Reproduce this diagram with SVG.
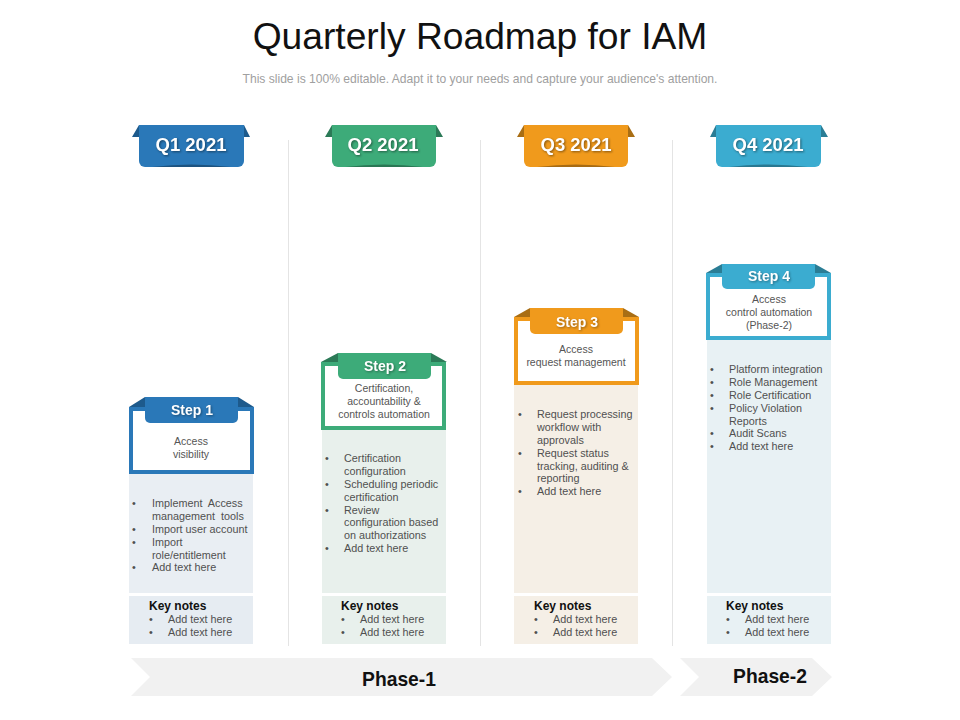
<svg xmlns="http://www.w3.org/2000/svg" width="960" height="720" viewBox="0 0 960 720">
<style>
text{font-family:"Liberation Sans",Arial,sans-serif}
.title{font-size:37.2px;fill:#111;text-anchor:middle}
.sub{font-size:12.1px;fill:#a0a0a0;text-anchor:middle}
.q{font-size:18.5px;font-weight:bold;fill:#fff;text-anchor:middle;filter:drop-shadow(1px 1px 1px rgba(0,0,0,.45))}
.st{font-size:14px;font-weight:bold;fill:#fff;text-anchor:middle;filter:drop-shadow(1px 1px 1px rgba(0,0,0,.35))}
.d{font-size:10.5px;fill:#555;text-anchor:middle}
.b{font-size:10.8px;fill:#505050;white-space:pre}
.k{font-size:12px;font-weight:bold;fill:#111}
.p{font-size:19.3px;font-weight:bold;fill:#111;text-anchor:middle}
.sep{stroke:#e4e4e4;stroke-width:1;fill:none}
.band{fill:#f1f1f1}
.frame{fill:#fff;stroke-width:4}
.shade{fill:#000;fill-opacity:.3}
</style>
<rect width="960" height="720" fill="#fff"/>
<text class="title" x="480" y="49">Quarterly Roadmap for IAM</text>
<text class="sub" x="480" y="83">This slide is 100% editable. Adapt it to your needs and capture your audience's attention.</text>
<g id="connectors">
<line class="sep" x1="288.500" y1="140" x2="288.500" y2="646"/>
<line class="sep" x1="480.500" y1="140" x2="480.500" y2="646"/>
<line class="sep" x1="672.500" y1="140" x2="672.500" y2="646"/>
</g>
<g id="q1">
<path d="M139 125L132 137H139Z M244 125L250 137H244Z" fill="#1d5a8c"/>
<path d="M139 125H244V161a6 6 0 0 1-6 6H145a6 6 0 0 1-6-6Z" fill="#2a78b8"/>
<path class="shade" d="M152 167Q191 162 231 167Z"/>
<text class="q" x="191" y="151">Q1 2021</text>
</g>
<g id="q2">
<path d="M332 125L325 137H332Z M436 125L443 137H436Z" fill="#2b7a57"/>
<path d="M332 125H436V161a6 6 0 0 1-6 6H338a6 6 0 0 1-6-6Z" fill="#3dab79"/>
<path class="shade" d="M345 167Q384 162 423 167Z"/>
<text class="q" x="383" y="151">Q2 2021</text>
</g>
<g id="q3">
<path d="M524 125L517 137H524Z M628 125L635 137H628Z" fill="#a96e14"/>
<path d="M524 125H628V161a6 6 0 0 1-6 6H530a6 6 0 0 1-6-6Z" fill="#f09a1c"/>
<path class="shade" d="M537 167Q576 162 615 167Z"/>
<text class="q" x="576" y="151">Q3 2021</text>
</g>
<g id="q4">
<path d="M716 125L710 137H716Z M821 125L828 137H821Z" fill="#2a7d95"/>
<path d="M716 125H821V161a6 6 0 0 1-6 6H722a6 6 0 0 1-6-6Z" fill="#3bacd0"/>
<path class="shade" d="M729 167Q768 162 808 167Z"/>
<text class="q" x="768" y="151">Q4 2021</text>
</g>
<g id="step1">
<rect x="129" y="474" width="124" height="119" fill="#e9eef3"/>
<rect class="frame" x="131" y="409" width="121" height="63" stroke="#2a78b8"/>
<path d="M129 407L145 397V407Z M238 397L254 407H238Z" fill="#1d5a8c"/>
<path d="M145 397H238V418a5 5 0 0 1-5 5H150a5 5 0 0 1-5-5Z" fill="#2a78b8"/>
<text class="st" x="192" y="415">Step 1</text>
<text class="d" x="191" y="445">Access</text>
<text class="d" x="191" y="458">visibility</text>
<text class="b" x="132" y="507">•</text><text class="b" x="152" y="507">Implement  Access</text>
<text class="b" x="152" y="520">management  tools</text>
<text class="b" x="132" y="533">•</text><text class="b" x="152" y="533">Import user account</text>
<text class="b" x="132" y="546">•</text><text class="b" x="152" y="546">Import</text>
<text class="b" x="152" y="559">role/entitlement</text>
<text class="b" x="132" y="571">•</text><text class="b" x="152" y="571">Add text here</text>
</g>
<g id="notes1">
<rect x="129" y="596" width="124" height="48" fill="#e6ecf2"/>
<text class="k" x="149" y="610">Key notes</text>
<text class="b" x="149" y="623">•</text><text class="b" x="168" y="623">Add text here</text>
<text class="b" x="149" y="636">•</text><text class="b" x="168" y="636">Add text here</text>
</g>
<g id="step2">
<rect x="322" y="430" width="124" height="163" fill="#e8f0ec"/>
<rect class="frame" x="323" y="364" width="121" height="64" stroke="#3dab79"/>
<path d="M321 362L338 353V362Z M431 353L447 362H431Z" fill="#2b7a57"/>
<path d="M338 353H431V374a5 5 0 0 1-5 5H343a5 5 0 0 1-5-5Z" fill="#3dab79"/>
<text class="st" x="385" y="371">Step 2</text>
<text class="d" x="384" y="392">Certification,</text>
<text class="d" x="384" y="405">accountability &amp;</text>
<text class="d" x="384" y="418">controls automation</text>
<text class="b" x="325" y="462">•</text><text class="b" x="344" y="462">Certification</text>
<text class="b" x="344" y="475">configuration</text>
<text class="b" x="325" y="488">•</text><text class="b" x="344" y="488">Scheduling periodic</text>
<text class="b" x="344" y="501">certification</text>
<text class="b" x="325" y="514">•</text><text class="b" x="344" y="514">Review</text>
<text class="b" x="344" y="526">configuration based</text>
<text class="b" x="344" y="539">on authorizations</text>
<text class="b" x="325" y="552">•</text><text class="b" x="344" y="552">Add text here</text>
</g>
<g id="notes2">
<rect x="322" y="596" width="124" height="48" fill="#e8f0ec"/>
<text class="k" x="341" y="610">Key notes</text>
<text class="b" x="341" y="623">•</text><text class="b" x="360" y="623">Add text here</text>
<text class="b" x="341" y="636">•</text><text class="b" x="360" y="636">Add text here</text>
</g>
<g id="step3">
<rect x="514" y="385" width="124" height="208" fill="#f5efe6"/>
<rect class="frame" x="516" y="319" width="121" height="64" stroke="#f09a1c"/>
<path d="M514 317L530 308V317Z M623 308L639 317H623Z" fill="#a96e14"/>
<path d="M530 308H623V329a5 5 0 0 1-5 5H535a5 5 0 0 1-5-5Z" fill="#f09a1c"/>
<text class="st" x="577" y="327">Step 3</text>
<text class="d" x="576" y="353">Access</text>
<text class="d" x="576" y="366">request management</text>
<text class="b" x="518" y="418">•</text><text class="b" x="537" y="418">Request processing</text>
<text class="b" x="537" y="431">workflow with</text>
<text class="b" x="537" y="444">approvals</text>
<text class="b" x="518" y="457">•</text><text class="b" x="537" y="457">Request status</text>
<text class="b" x="537" y="470">tracking, auditing &amp;</text>
<text class="b" x="537" y="482">reporting</text>
<text class="b" x="518" y="495">•</text><text class="b" x="537" y="495">Add text here</text>
</g>
<g id="notes3">
<rect x="514" y="596" width="124" height="48" fill="#f5efe6"/>
<text class="k" x="534" y="610">Key notes</text>
<text class="b" x="534" y="623">•</text><text class="b" x="553" y="623">Add text here</text>
<text class="b" x="534" y="636">•</text><text class="b" x="553" y="636">Add text here</text>
</g>
<g id="step4">
<rect x="707" y="340" width="124" height="253" fill="#e8f1f4"/>
<rect class="frame" x="708" y="275" width="121" height="63" stroke="#3bacd0"/>
<path d="M706 273L722 264V273Z M815 264L831 273H815Z" fill="#2a7d95"/>
<path d="M722 264H815V284a5 5 0 0 1-5 5H727a5 5 0 0 1-5-5Z" fill="#3bacd0"/>
<text class="st" x="769" y="281">Step 4</text>
<text class="d" x="769" y="303">Access</text>
<text class="d" x="769" y="316">control automation</text>
<text class="d" x="769" y="329">(Phase-2)</text>
<text class="b" x="710" y="373">•</text><text class="b" x="729" y="373">Platform integration</text>
<text class="b" x="710" y="386">•</text><text class="b" x="729" y="386">Role Management</text>
<text class="b" x="710" y="399">•</text><text class="b" x="729" y="399">Role Certification</text>
<text class="b" x="710" y="412">•</text><text class="b" x="729" y="412">Policy Violation</text>
<text class="b" x="729" y="425">Reports</text>
<text class="b" x="710" y="437">•</text><text class="b" x="729" y="437">Audit Scans</text>
<text class="b" x="710" y="450">•</text><text class="b" x="729" y="450">Add text here</text>
</g>
<g id="notes4">
<rect x="707" y="596" width="124" height="48" fill="#e8f1f4"/>
<text class="k" x="726" y="610">Key notes</text>
<text class="b" x="726" y="623">•</text><text class="b" x="745" y="623">Add text here</text>
<text class="b" x="726" y="636">•</text><text class="b" x="745" y="636">Add text here</text>
</g>
<g id="phase1">
<path class="band" d="M131 658H652L672 677L652 696H131L150 677Z"/>
<text class="p" x="399" y="686">Phase-1</text>
</g>
<g id="phase2">
<path class="band" d="M680 658H812L832 677L812 696H680L699 677Z"/>
<text class="p" x="770" y="683">Phase-2</text>
</g>
</svg>
